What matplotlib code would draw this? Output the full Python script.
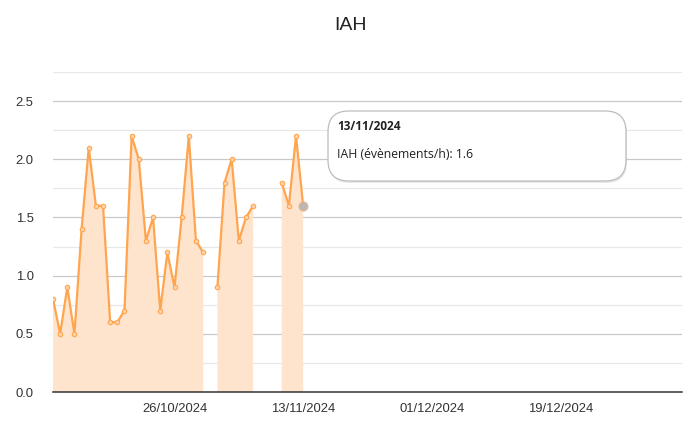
import numpy as np
import pandas as pd
import matplotlib
matplotlib.use("Agg")
import matplotlib.pyplot as plt
import matplotlib.dates as mdates
from matplotlib.patches import FancyBboxPatch

# --- data: IAH (events/h) per night, NaN = no recording ---------------------
start_date = "2024-10-09"
iah_values = [0.8, 0.5, 0.9, 0.5, 1.4, 2.1, 1.6, 1.6, 0.6, 0.6,
              0.7, 2.2, 2.0, 1.3, 1.5, 0.7, 1.2, 0.9, 1.5, 2.2,
              1.3, 1.2, np.nan, 0.9, 1.8, 2.0, 1.3, 1.5, 1.6, np.nan,
              np.nan, np.nan, 1.8, 1.6, 2.2, 1.6]
tick_dates = ["2024-10-26", "2024-11-13", "2024-12-01", "2024-12-19"]
x_end = "2025-01-05"
y_ticks = [0.0, 0.5, 1.0, 1.5, 2.0, 2.5]
hover_date = "2024-11-13"
hover_value = 1.6

dates = pd.date_range(start_date, periods=len(iah_values), freq="D")
vals = np.array(iah_values, dtype=float)

LINE = "#ffa54f"
FILL = "#fee4cd"

W, H = 692, 423
fig = plt.figure(figsize=(W / 100, H / 100), dpi=100)
fig.patch.set_facecolor("white")
ax = fig.add_axes([53 / W, (H - 392) / H, (682 - 53) / W, (392 - 72) / H])

# grid: major every 0.5, minor every 0.25
for y in np.arange(0.25, 2.76, 0.25):
    major = abs(y / 0.5 - round(y / 0.5)) < 1e-6
    ax.axhline(y, color="#c9c9c9" if major else "#e8e8e8", lw=0.9, zorder=0)

ax.fill_between(dates, 0, vals, color=FILL, lw=0, zorder=1)
ax.plot(dates, vals, color=LINE, lw=1.6, zorder=3, marker="o", ms=3.2,
        mfc="#ffd3ab", mec=LINE, mew=0.8)
ax.plot([pd.Timestamp(hover_date)], [hover_value], "o", ms=6.5,
        mfc="#b5b5b5", mec="#e8b48a", mew=0.8, zorder=4, alpha=0.9)

ax.set_xlim(dates[0], pd.Timestamp(x_end))
ax.set_ylim(0, 2.75)
ax.set_yticks(y_ticks)
ax.set_yticklabels([f"{v:.1f}" for v in y_ticks])
ax.set_xticks(pd.to_datetime(tick_dates))
ax.xaxis.set_major_formatter(mdates.DateFormatter("%d/%m/%Y"))
ax.tick_params(axis="both", length=0, labelsize=9.4, colors="#333333",
               labelfontfamily="Liberation Sans")
ax.tick_params(axis="x", pad=8)
ax.tick_params(axis="y", pad=14)
for s in ("top", "right", "left"):
    ax.spines[s].set_visible(False)
ax.spines["bottom"].set_color("#333333")
ax.spines["bottom"].set_linewidth(1.1)

fig.text(351 / W, 1 - 25 / H, "IAH", ha="center", va="center",
         fontsize=14, color="#222222", family="Liberation Sans")

# tooltip
bx0, by0, bx1, by1 = 328, 111, 626, 181
shadow = FancyBboxPatch(((bx0 + 1) / W, 1 - (by1 + 2) / H),
                        (bx1 - bx0) / W, (by1 - by0) / H,
                        boxstyle="round,pad=0,rounding_size=0.03",
                        transform=fig.transFigure, fc="#00000018", ec="none",
                        mutation_aspect=W / H)
box = FancyBboxPatch((bx0 / W, 1 - by1 / H), (bx1 - bx0) / W, (by1 - by0) / H,
                     boxstyle="round,pad=0,rounding_size=0.03",
                     transform=fig.transFigure, fc="white", ec="#bdbdbd",
                     lw=0.9, mutation_aspect=W / H)
fig.add_artist(shadow)
fig.add_artist(box)
fig.text(337 / W, 1 - 126 / H, "13/11/2024", ha="left", va="center",
         fontsize=8.5, fontweight="bold", color="#222222", family="Open Sans")
fig.text(337 / W, 1 - 154 / H, "IAH (évènements/h): 1.6", ha="left",
         va="center", fontsize=8.8, color="#222222", family="Open Sans")

fig.savefig("out.png", dpi=100)
